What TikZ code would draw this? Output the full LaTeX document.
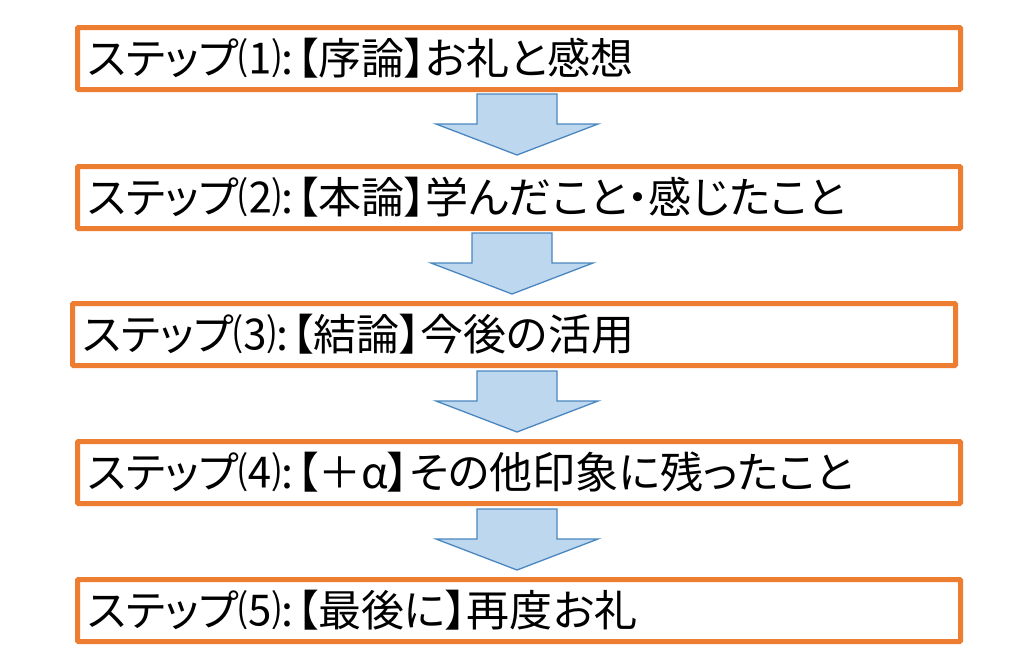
\documentclass[tikz,border=0pt]{standalone}
\usepackage{fontspec}
\newfontfamily\jpfont[RawFeature=+palt]{Noto Sans CJK JP}
\definecolor{boxorange}{HTML}{ED7D31}
\definecolor{arrowfill}{HTML}{BDD7EE}
\definecolor{arrowline}{HTML}{4A86C0}
\begin{document}
\begin{tikzpicture}[x=1pt,y=-1pt,
  stepbox/.style={draw=boxorange, line width=5pt, fill=white, rounded corners=1pt,
    minimum height=62pt, text width=863pt, inner xsep=10pt, inner ysep=0pt,
    align=left, anchor=north west, font=\jpfont\fontsize{43}{46}\selectfont},
  barrow/.style={draw=arrowline, line width=1.3pt, fill=arrowfill, line join=miter}]
\useasboundingbox (0,0) rectangle (1024,656);
\fill[white] (0,0) rectangle (1024,656);
\node[stepbox] (s1) at (75,25) {ステップ⑴:\hspace{3pt}【序論】お礼と感想};
\node[stepbox] (s2) at (75,164) {ステップ⑵:\hspace{3pt}【本論】学んだこと・感じたこと};
\node[stepbox] (s3) at (70,301) {ステップ⑶:\hspace{3pt}【結論】今後の活用};
\node[stepbox] (s4) at (75,439) {ステップ⑷:\hspace{3pt}【＋α】その他印象に残ったこと};
\node[stepbox] (s5) at (75,577) {ステップ⑸:\hspace{3pt}【最後に】再度お礼};
\coordinate (a1) at (517,94);
\coordinate (a2) at (512,233);
\coordinate (a3) at (517,371);
\coordinate (a4) at (517,509);
\foreach \a in {a1,a2,a3,a4}{
  \draw[barrow] (\a) ++(-40,0) -- ++(80,0) -- ++(0,30) -- ++(41,0) -- ++(-81,31) -- ++(-81,-31) -- ++(41,0) -- cycle;
}
\end{tikzpicture}
\end{document}
